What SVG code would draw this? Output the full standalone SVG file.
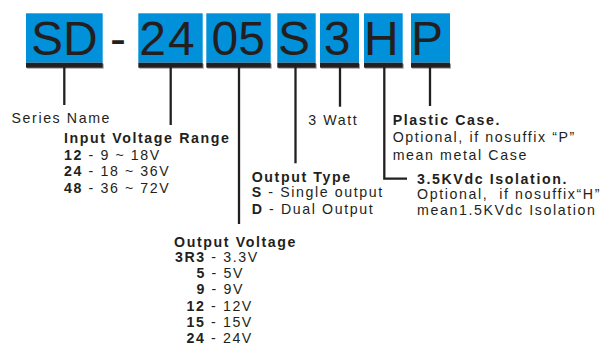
<svg xmlns="http://www.w3.org/2000/svg" width="605" height="352" viewBox="0 0 605 352">
<style>
.box{fill:#0091DA}
.bar{fill:#231F20}
.sh{fill:#A0A0A0}
.big{font-family:"Liberation Sans",Arial,sans-serif;font-size:48px;fill:#231F20;text-anchor:middle}
.t{font-family:"Liberation Sans",Arial,sans-serif;font-size:14.2px;fill:#231F20;letter-spacing:1.6px}
.b{font-weight:bold}
.con{stroke:#231F20;stroke-width:2.3;fill:none}
</style>
<rect width="605" height="352" fill="#fff"/>
<g id="code-SD">
<rect class="box" x="26" y="13.3" width="76.7" height="49.4"/>
<rect class="sh" x="27" y="63.7" width="76.7" height="5"/>
<rect class="bar" x="26" y="62.7" width="76.7" height="5"/>
<text class="big" x="64.3" y="54.5">SD</text>
</g>
<g id="code-dash">
<text class="big" x="118" y="54.5">-</text>
</g>
<g id="code-24">
<rect class="box" x="138.3" y="13.3" width="64.4" height="49.4"/>
<rect class="sh" x="139.3" y="63.7" width="64.4" height="5"/>
<rect class="bar" x="138.3" y="62.7" width="64.4" height="5"/>
<text class="big" x="168" y="54.5" style="letter-spacing:2px">24</text>
</g>
<g id="code-05">
<rect class="box" x="206.3" y="13.3" width="64.4" height="49.4"/>
<rect class="sh" x="207.3" y="63.7" width="64.4" height="5"/>
<rect class="bar" x="206.3" y="62.7" width="64.4" height="5"/>
<text class="big" x="238.3" y="54.5">05</text>
</g>
<g id="code-S">
<rect class="box" x="277.3" y="13.3" width="38.4" height="49.4"/>
<rect class="sh" x="278.3" y="63.7" width="38.4" height="5"/>
<rect class="bar" x="277.3" y="62.7" width="38.4" height="5"/>
<text class="big" x="294" y="54.5">S</text>
</g>
<g id="code-3">
<rect class="box" x="320" y="13.3" width="39" height="49.4"/>
<rect class="sh" x="321" y="63.7" width="39" height="5"/>
<rect class="bar" x="320" y="62.7" width="39" height="5"/>
<text class="big" x="337" y="54.5">3</text>
</g>
<g id="code-H">
<rect class="box" x="364" y="13.3" width="38.7" height="49.4"/>
<rect class="sh" x="365" y="63.7" width="38.7" height="5"/>
<rect class="bar" x="364" y="62.7" width="38.7" height="5"/>
<text class="big" x="381.3" y="54.5">H</text>
</g>
<g id="code-P">
<rect class="box" x="411" y="13.3" width="39" height="49.4"/>
<rect class="sh" x="412" y="63.7" width="39" height="5"/>
<rect class="bar" x="411" y="62.7" width="39" height="5"/>
<text class="big" x="427" y="54.5">P</text>
</g>
<g id="connectors">
<line class="con" x1="64.3" y1="67" x2="64.3" y2="105"/>
<line class="con" x1="170.7" y1="67" x2="170.7" y2="125"/>
<line class="con" x1="239" y1="67" x2="239" y2="224"/>
<line class="con" x1="295.5" y1="67" x2="295.5" y2="163.3"/>
<line class="con" x1="340" y1="67" x2="340" y2="106.7"/>
<polyline class="con" points="384.3,67 384.3,178.6 407,178.6"/>
<line class="con" x1="430" y1="67" x2="430" y2="106"/>
</g>
<g id="label-series">
<text class="t" x="11.5" y="123.3">Series Name</text>
</g>
<g id="label-input">
<text class="t b" x="64" y="142.7">Input Voltage Range</text>
<text class="t" x="64" y="159.5"><tspan class="b">12</tspan> - 9 ~ 18V</text>
<text class="t" x="64" y="176"><tspan class="b">24</tspan> - 18 ~ 36V</text>
<text class="t" x="64" y="192.5"><tspan class="b">48</tspan> - 36 ~ 72V</text>
</g>
<g id="label-output-voltage">
<text class="t b" x="174" y="246.5">Output Voltage</text>
<text class="t" x="175" y="262"><tspan class="b">3R3</tspan> - 3.3V</text>
<text class="t" x="196.5" y="278.2"><tspan class="b">5</tspan> - 5V</text>
<text class="t" x="196.5" y="294.4"><tspan class="b">9</tspan> - 9V</text>
<text class="t" x="186.5" y="310.6"><tspan class="b">12</tspan> - 12V</text>
<text class="t" x="186.5" y="326.8"><tspan class="b">15</tspan> - 15V</text>
<text class="t" x="186.5" y="343"><tspan class="b">24</tspan> - 24V</text>
</g>
<g id="label-output-type">
<text class="t b" x="251.7" y="181.5">Output Type</text>
<text class="t" x="251.7" y="197.2"><tspan class="b">S</tspan> - Single output</text>
<text class="t" x="251.7" y="213.5"><tspan class="b">D</tspan> - Dual Output</text>
</g>
<g id="label-watt">
<text class="t" x="308.3" y="125">3 Watt</text>
</g>
<g id="label-plastic">
<text class="t b" x="392.7" y="125">Plastic Case.</text>
<text class="t" x="392.7" y="142">Optional, if nosuffix “P”</text>
<text class="t" x="392.7" y="159.5">mean metal Case</text>
</g>
<g id="label-isolation">
<text class="t b" x="417" y="183.5">3.5KVdc Isolation.</text>
<text class="t" x="417" y="199" xml:space="preserve">Optional,  if nosuffix“H”</text>
<text class="t" x="417" y="215">mean1.5KVdc Isolation</text>
</g>
</svg>
